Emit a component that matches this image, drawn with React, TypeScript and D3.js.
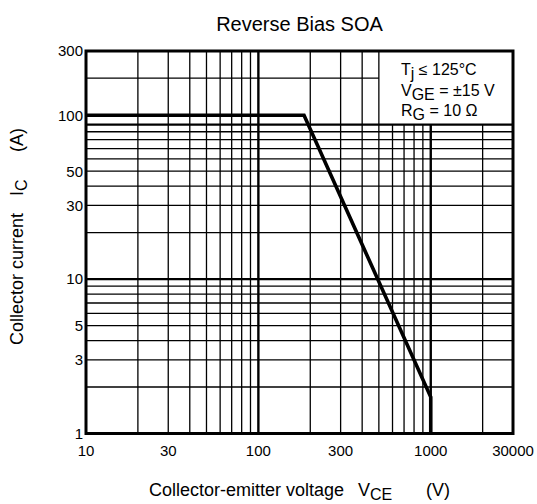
import React from 'react'
import * as d3 from 'd3'

// axis ranges (log-log)
const xDomain: [number, number] = [10, 3000]
const yDomain: [number, number] = [1, 300]

// tick labels as printed on the sheet
const xTickValues = [10, 30, 100, 300, 1000, 3000]
const xTickLabels = ['10', '30', '100', '300', '1000', '30000']
// the "100" label sits level with the curve's flat part, not on the grid line
const yTickValues = [1, 3, 5, 10, 30, 50, 115, 300]
const yTickLabels = ['1', '3', '5', '10', '30', '50', '100', '300']

// RBSOA boundary (V, A)
const soaVoltage = [10, 184, 1000, 1000]
const soaCurrent = [115, 115, 1.72, 1]

// legend box covers the grid above 100 A, right of 500 V
const boxVoltage = 500
const boxCurrent = 100

const width = 537
const height = 504
const margin = { top: 51, right: 24, bottom: 70.5, left: 86 }
const font = "'Liberation Sans', Arial, Helvetica, sans-serif"

const App: React.FC = () => {
    const x = d3
        .scaleLog()
        .domain(xDomain)
        .range([margin.left, width - margin.right])
    const y = d3
        .scaleLog()
        .domain(yDomain)
        .range([height - margin.bottom, margin.top])

    const [x0, x1] = x.range()
    const [y0, y1] = y.range()

    // grid values: 1..9 per decade
    const gridX: number[] = []
    for (let d = 10; d < xDomain[1]; d *= 10)
        for (let k = 1; k < 10; k++) {
            const v = d * k
            if (v > xDomain[0] && v < xDomain[1]) gridX.push(v)
        }
    const gridY: number[] = []
    for (let d = 1; d < yDomain[1]; d *= 10)
        for (let k = 1; k < 10; k++) {
            const v = d * k
            if (v > yDomain[0] && v < yDomain[1]) gridY.push(v)
        }
    const isMajor = (v: number) => Math.abs(Math.log10(v) % 1) < 1e-9

    const line = d3
        .line<number>()
        .x((_, i) => x(soaVoltage[i]))
        .y((d) => y(d))

    return (
        <svg
            width={width}
            height={height}
            style={{ position: 'absolute', left: 0, top: 0, background: '#fff' }}
            fontFamily={font}
        >
            <text x={(x0 + x1) / 2} y={31} textAnchor="middle" fontSize={20}>
                Reverse Bias SOA
            </text>

            {/* grid */}
            <g stroke="#000">
                {gridX.map((v) => (
                    <line
                        key={'gx' + v}
                        x1={x(v)}
                        x2={x(v)}
                        y1={y0}
                        y2={v > boxVoltage ? y(boxCurrent) : y1}
                        strokeWidth={isMajor(v) ? 2.4 : 1.3}
                    />
                ))}
                {gridY.map((v) => (
                    <line
                        key={'gy' + v}
                        x1={x0}
                        x2={v > boxCurrent ? x(boxVoltage) : x1}
                        y1={y(v)}
                        y2={y(v)}
                        strokeWidth={isMajor(v) ? 2.4 : 1.3}
                    />
                ))}
            </g>

            {/* frame */}
            <rect
                x={x0}
                y={y1}
                width={x1 - x0}
                height={y0 - y1}
                fill="none"
                stroke="#000"
                strokeWidth={3}
            />

            {/* SOA boundary */}
            <path
                d={line(soaCurrent) ?? ''}
                fill="none"
                stroke="#000"
                strokeWidth={3.6}
                strokeLinejoin="miter"
            />

            {/* conditions */}
            <g fontSize={16}>
                <text x={401} y={75}>
                    T<tspan dy={4}>j</tspan>
                    <tspan dy={-4}> ≤ 125°C</tspan>
                </text>
                <text x={401} y={95.5}>
                    V<tspan dy={4}>GE</tspan>
                    <tspan dy={-4}> = ±15 V</tspan>
                </text>
                <text x={401} y={116}>
                    R<tspan dy={4}>G</tspan>
                    <tspan dy={-4}> = 10 Ω</tspan>
                </text>
            </g>

            {/* x ticks */}
            <g fontSize={15} textAnchor="middle">
                {xTickValues.map((v, i) => (
                    <text key={'xt' + v} x={x(v)} y={y0 + 22}>
                        {xTickLabels[i]}
                    </text>
                ))}
            </g>

            {/* y ticks */}
            <g fontSize={15} textAnchor="end">
                {yTickValues.map((v, i) => (
                    <text key={'yt' + v} x={x0 - 3} y={y(v)} dy="0.36em">
                        {yTickLabels[i]}
                    </text>
                ))}
            </g>

            {/* axis titles */}
            <g fontSize={18}>
                <text x={149} y={496}>
                    Collector-emitter voltage
                </text>
                <text x={358} y={496}>
                    V<tspan dy={4} fontSize={16}>CE</tspan>
                </text>
                <text x={426} y={496}>
                    (V)
                </text>
            </g>
            <g fontSize={18} transform="translate(23,0) rotate(-90)">
                <text x={-345} y={0}>
                    Collector current
                </text>
                <text x={-196} y={0}>
                    I<tspan dy={4} fontSize={16}>C</tspan>
                </text>
                <text x={-152} y={0}>
                    (A)
                </text>
            </g>
        </svg>
    )
}

export default App
